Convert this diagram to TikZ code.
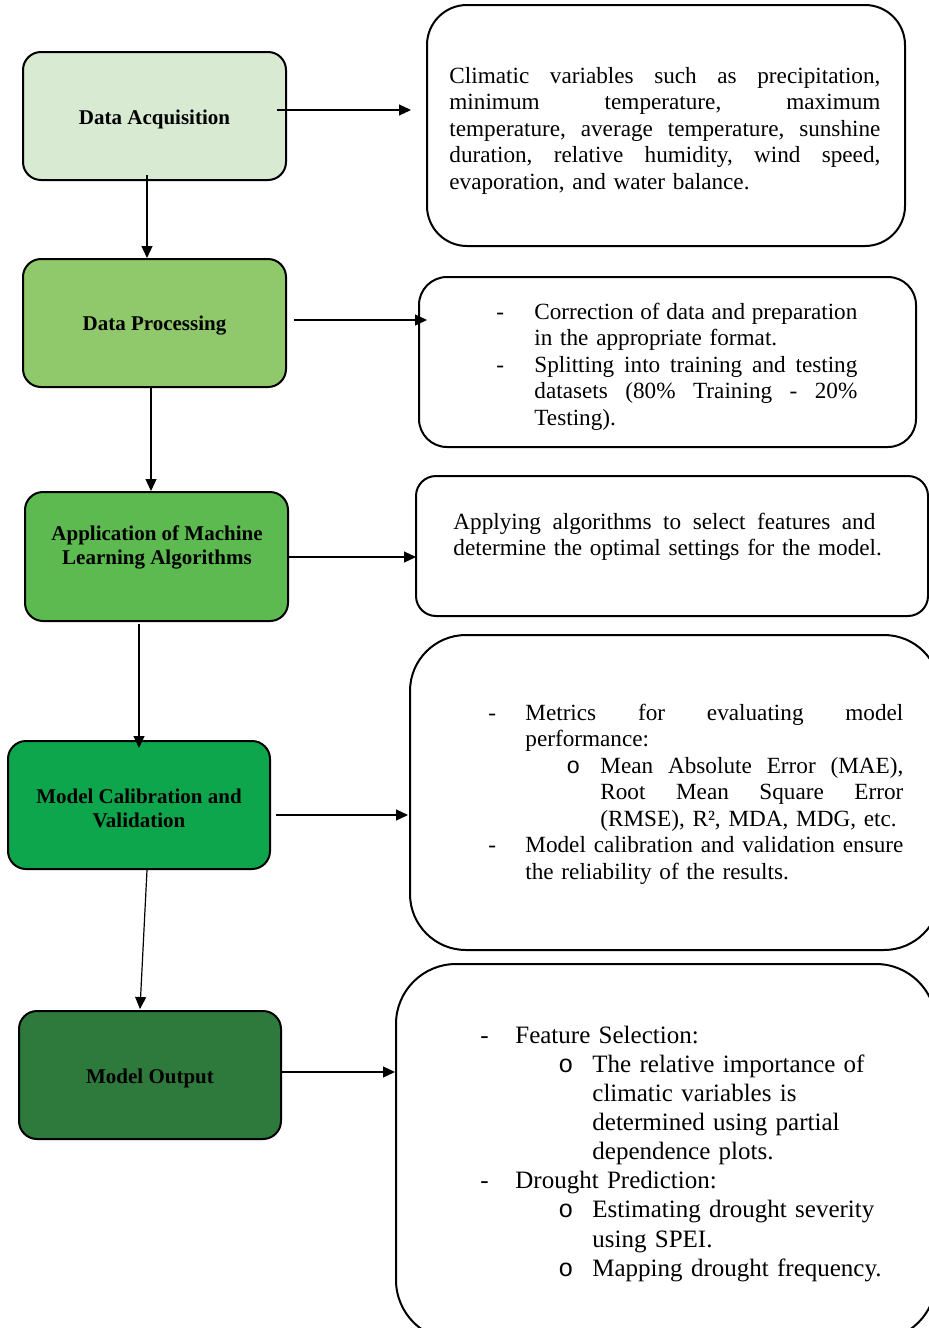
\documentclass[tikz,border=0pt]{standalone}
\usepackage{fontspec}
\setmainfont{Liberation Serif}
\newfontfamily\monof{Liberation Mono}
\usetikzlibrary{arrows.meta,calc}
\definecolor{cA}{RGB}{217,234,211}
\definecolor{cB}{RGB}{143,201,108}
\definecolor{cC}{RGB}{92,186,80}
\definecolor{cD}{RGB}{14,166,76}
\definecolor{cE}{RGB}{46,122,60}
\newcommand\jline[2]{\leavevmode\hbox to #1pt{\frenchspacing\spaceskip=0.25em plus 1fil\relax #2}}
\newcommand\cbul{{\monof o}}
\begin{document}
\begin{tikzpicture}[x=0.5pt,y=-0.5pt,
  lbox/.style={draw=black, line width=1pt, rounded corners=9pt, inner sep=0pt,
    minimum width=131.5pt, minimum height=64pt},
  ltext/.style={inner sep=0pt, align=center, font=\fontsize{10.5}{12}\selectfont\bfseries},
  rbox/.style={draw=black, line width=1pt, inner sep=0pt, fill=white},
  rtext/.style={inner sep=0pt, anchor=north west, text width=260pt, align=left,
    font=\fontsize{11.6}{13.25}\selectfont},
  arr/.style={-{Triangle[length=6pt,width=5.5pt]}, line width=0.6pt, draw=black}]
\useasboundingbox (0,0) rectangle (929,1328);

% left boxes
\node[lbox, fill=cA] (da) at (154.5,116) {};
\node[ltext] (dat) at (154.5,119) {Data Acquisition};
\node[lbox, fill=cB] (dp) at (154.5,323) {};
\node[ltext] (dpt) at (154.5,326) {Data Processing};
\node[lbox, fill=cC, minimum height=64.5pt] (ml) at (156.5,556.5) {};
\node[ltext] (mlt) at (157,547) {Application of Machine\\Learning Algorithms};
\node[lbox, fill=cD, minimum width=131pt] (mc) at (139,805) {};
\node[ltext] (mct) at (139,808) {Model Calibration and\\Validation};
\node[lbox, fill=cE, minimum width=131pt] (mo) at (150,1075) {};
\node[ltext] (mot) at (150,1078) {Model Output};

% right boxes
\node[rbox, rounded corners=20pt, minimum width=239pt, minimum height=120.5pt] (r1) at (666,125.5) {};
\node[rbox, rounded corners=14pt, minimum width=248.5pt, minimum height=85pt] (r2) at (667.5,362) {};
\node[rbox, rounded corners=10pt, minimum width=256pt, minimum height=70pt] (r3) at (672,546) {};
\node[rbox, rounded corners=28pt, minimum width=265pt, minimum height=157.5pt] (r4) at (675,792.5) {};
\node[rbox, rounded corners=30pt, minimum width=270pt, minimum height=188pt] (r5) at (666,1152) {};

% right texts
\node[rtext] (t1) at (449,64.5) {\strut\jline{215.5}{Climatic variables such as precipitation,}\\
\jline{215.5}{minimum temperature, maximum}\\
\jline{215.5}{temperature, average temperature, sunshine}\\
\jline{215.5}{duration, relative humidity, wind speed,}\\
evaporation, and water balance.};

\node[rtext] (t2) at (496,300.5) {\strut\makebox[19pt][l]{-}\jline{161.5}{Correction of data and preparation}\\
\hspace*{19pt}in the appropriate format.\\
\makebox[19pt][l]{-}\jline{161.5}{Splitting into training and testing}\\
\hspace*{19pt}\jline{161.5}{datasets (80\% Training - 20\%}\\
\hspace*{19pt}Testing).};

\node[rtext] (t3) at (453,510.5) {\strut\jline{211}{Applying algorithms to select features and}\\
determine the optimal settings for the model.};

\node[rtext] (t4) at (488,701.5) {\strut\makebox[18.5pt][l]{-}\jline{189}{Metrics for evaluating model}\\
\hspace*{18.5pt}performance:\\
\hspace*{39pt}\makebox[17pt][l]{\cbul}\jline{151.5}{Mean Absolute Error (MAE),}\\
\hspace*{56pt}\jline{151.5}{Root Mean Square Error}\\
\hspace*{56pt}(RMSE), R², MDA, MDG, etc.\\
\makebox[18.5pt][l]{-}\jline{189}{Model calibration and validation ensure}\\
\hspace*{18.5pt}the reliability of the results.};

\node[rtext, font=\fontsize{12.5}{14.55}\selectfont] (t5) at (480,1022.6) {\strut\makebox[17.5pt][l]{-}Feature Selection:\\
\hspace*{39pt}\makebox[17pt][l]{\cbul}The relative importance of\\
\hspace*{56pt}climatic variables is\\
\hspace*{56pt}determined using partial\\
\hspace*{56pt}dependence plots.\\
\makebox[17.5pt][l]{-}Drought Prediction:\\
\hspace*{39pt}\makebox[17pt][l]{\cbul}Estimating drought severity\\
\hspace*{56pt}using SPEI.\\
\hspace*{39pt}\makebox[17pt][l]{\cbul}Mapping drought frequency.};

% connectors
\draw[arr] ($(da.east)+(-10,-6)$) -- ($(r1.west |- da.east)+(-15,-6)$);
\draw[arr] ($(da.south)+(-7.5,-6)$) -- ($(dp.north)+(-7.5,0)$);
\draw[arr] ($(dp.east)+(7,-3)$) -- ($(r2.west |- dp.east)+(9,-3)$);
\draw[arr] ($(dp.south)+(-3.5,0)$) -- ($(ml.north)+(-5.5,0)$);
\draw[arr] ($(ml.east)+(0,0.5)$) -- ($(r3.west |- ml.east)+(1,0.5)$);
\draw[arr] ($(ml.south)+(-17.5,2)$) -- ($(mc.north)+(0,8)$);
\draw[arr] ($(mc.east)+(5,10)$) -- ($(r4.west |- mc.east)+(-1,10)$);
\draw[arr] ($(mc.south)+(8,0)$) -- ($(mo.north)+(-10,-1)$);
\draw[arr] ($(mo.east)+(0,-3)$) -- ($(r5.west |- mo.east)+(0,-3)$);
\end{tikzpicture}
\end{document}
